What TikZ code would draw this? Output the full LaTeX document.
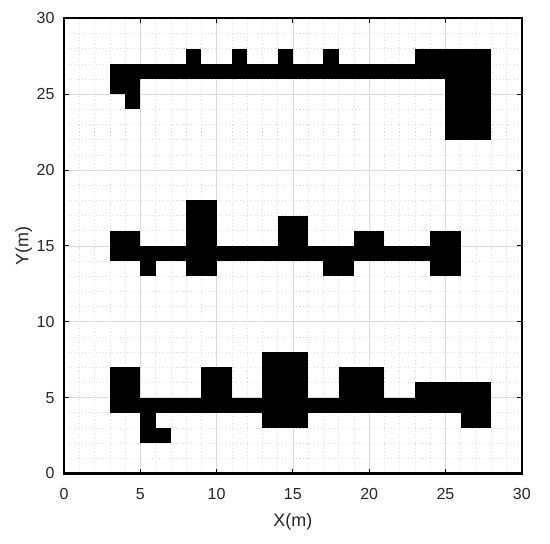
\documentclass[tikz,border=0pt]{standalone}
\usepackage{fontspec}
\setmainfont{Liberation Sans}
\usetikzlibrary{positioning}
\tikzset{
	ticklabel/.style={font=\fontsize{9.1}{11}\selectfont, text=black!85, inner sep=0pt}
}
\tikzset{
	axislabel/.style={font=\fontsize{10.2}{12}\selectfont, text=black!85, inner sep=0pt}
}

\begin{document}
\begin{tikzpicture}[x=0.3052cm, y=0.3034cm]

      \tikzset{
        minorgrid/.style={
            draw=black!14,
            line width=0.3pt,
            dash pattern=on 0.6pt off 1.4pt
          },
        majorgrid/.style={
            draw=black!14,
            line width=0.4pt
          },
        obstacle/.style={
            fill=black,
            draw=none
          }
      }

      \useasboundingbox (-4.194,-4.647) rectangle (31.85,31.21);
      \fill[white] (-4.194,-4.647) rectangle (31.85,31.21);

      % grid
      \foreach \g in {1,...,29} {
          \draw[minorgrid] (\g,0) -- (\g,30);
          \draw[minorgrid] (0,\g) -- (30,\g);
        }
      \foreach \g in {5,10,...,25} {
          \draw[majorgrid] (\g,0) -- (\g,30);
          \draw[majorgrid] (0,\g) -- (30,\g);
        }

      % upper obstacle
      \fill[obstacle] (3,26) rectangle (25,27);
      \fill[obstacle] (3,25) rectangle (5,27);
      \fill[obstacle] (4,24) rectangle (5,25);
      \foreach \b in {8,11,14,17}
        \fill[obstacle] (\b,27) rectangle ++(1,1);
      \fill[obstacle] (23,26) rectangle (28,28);
      \fill[obstacle] (25,22) rectangle (28,28);

      % middle obstacle
      \fill[obstacle] (3,14) rectangle (26,15);
      \fill[obstacle] (3,14) rectangle (5,16);
      \fill[obstacle] (5,13) rectangle (6,14);
      \fill[obstacle] (8,13) rectangle (10,18);
      \fill[obstacle] (14,14) rectangle (16,17);
      \fill[obstacle] (17,13) rectangle (19,14);
      \fill[obstacle] (19,14) rectangle (21,16);
      \fill[obstacle] (24,13) rectangle (26,16);

      % lower obstacle
      \fill[obstacle] (3,4) rectangle (28,5);
      \fill[obstacle] (3,4) rectangle (5,7);
      \fill[obstacle] (5,2) rectangle (6,4);
      \fill[obstacle] (5,2) rectangle (7,3);
      \fill[obstacle] (9,5) rectangle (11,7);
      \fill[obstacle] (13,3) rectangle (16,8);
      \fill[obstacle] (18,5) rectangle (21,7);
      \fill[obstacle] (23,4) rectangle (28,6);
      \fill[obstacle] (26,3) rectangle (28,4);

      % ticks and frame
      \foreach \t in {5,10,...,25} {
          \draw[black, line width=0.5pt] (\t,0) -- (\t,0.3);
          \draw[black, line width=0.5pt] (\t,30) -- (\t,29.7);
          \draw[black, line width=0.5pt] (0,\t) -- (0.3,\t);
          \draw[black, line width=0.5pt] (30,\t) -- (29.7,\t);
        }
      \draw[black, line width=1.3pt] (0,0) rectangle (30,30);

      % tick labels
      \foreach \t in {0,5,...,30} {
          \node[ticklabel, anchor=north] (xt\t) at (\t,-0.95) {\t};
          \node[ticklabel, anchor=east] (yt\t) at (-0.6,\t) {\t};
        }

      \node[axislabel, anchor=base] (xlabel) at (15,-3.51) {X(m)};
      \node[axislabel, anchor=base, rotate=90] (ylabel) at (-2.34,15) {Y(m)};
    \end{tikzpicture}
\end{document}
